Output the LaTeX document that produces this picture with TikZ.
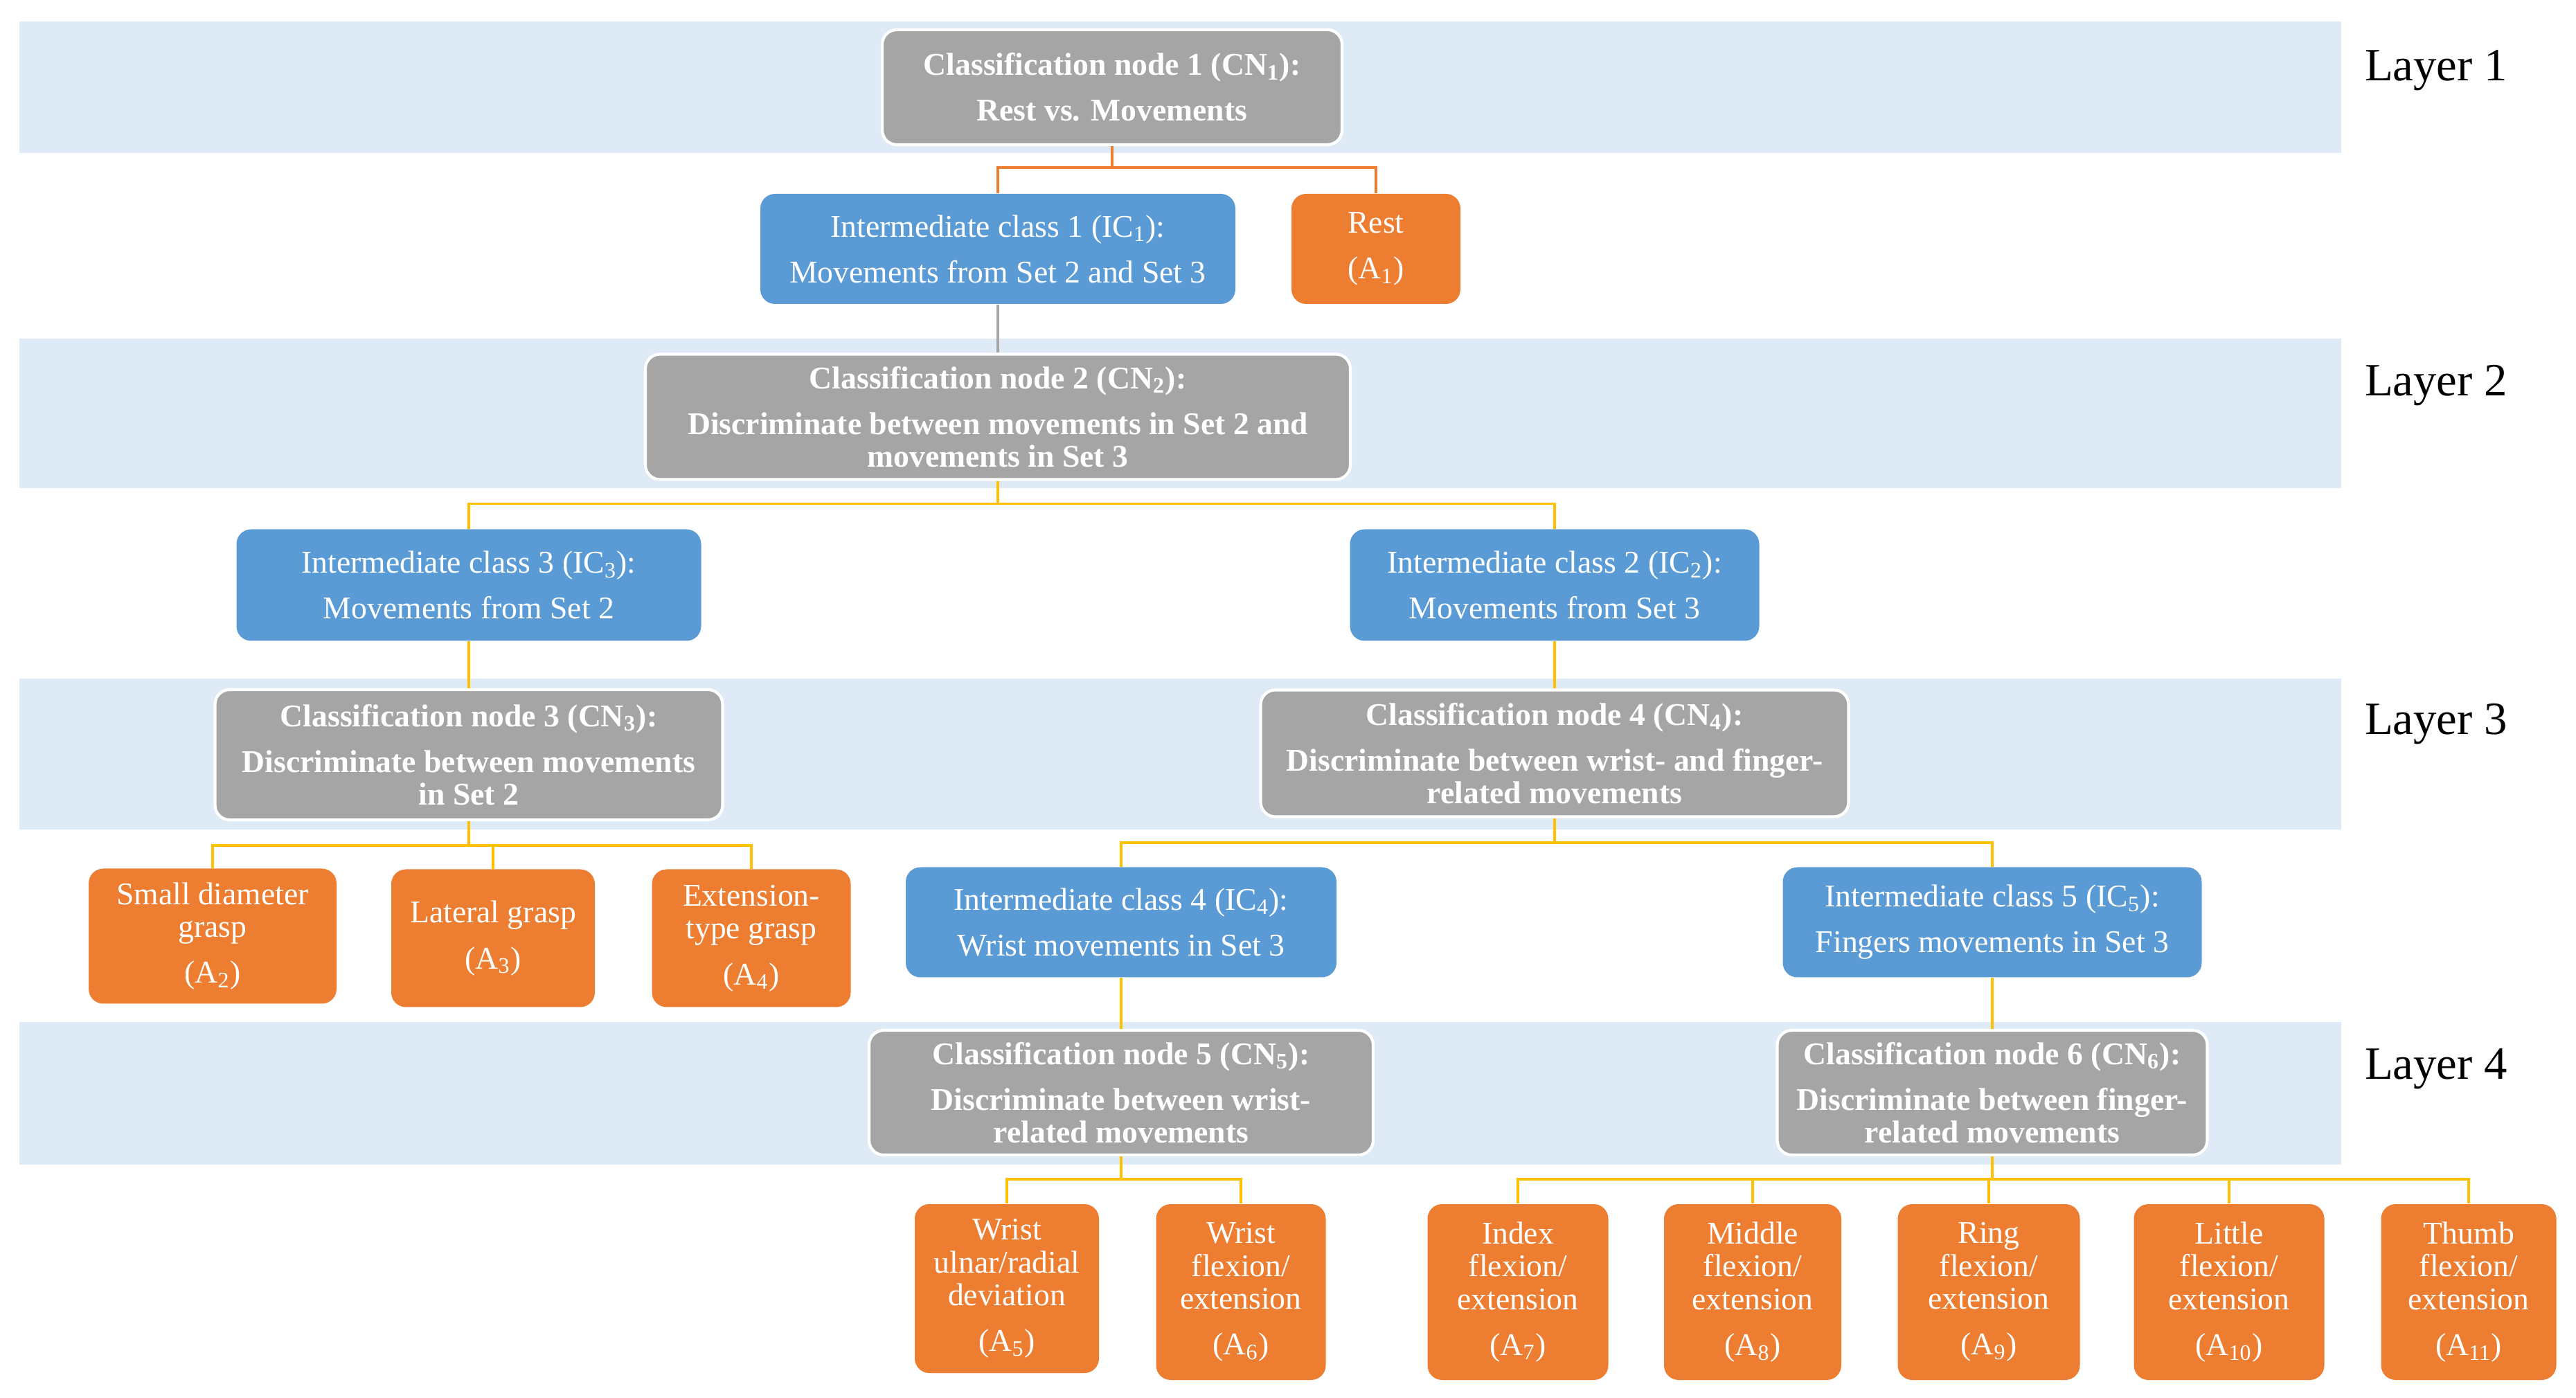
\documentclass[tikz,border=0pt]{standalone}
\usepackage{fontspec}
\setmainfont{Liberation Serif}
\usepackage{xcolor}
\usepackage{tikz}
\usetikzlibrary{positioning,calc}
\definecolor{bandblue}{RGB}{222,234,246}
\definecolor{nodegray}{RGB}{165,165,165}
\definecolor{classblue}{RGB}{91,155,213}
\definecolor{moveorange}{RGB}{237,125,49}
\definecolor{linkyellow}{RGB}{255,192,0}

\begin{document}
\begin{tikzpicture}[
    band/.style={fill=bandblue, draw=none},
    cnbox/.style={rectangle, rounded corners=6pt, fill=nodegray, draw=white, line width=1.2pt, text=white, align=center, inner sep=2pt, font=\fontsize{13}{13.5}\selectfont\bfseries},
    icbox/.style={rectangle, rounded corners=6pt, fill=classblue, text=white, align=center, inner sep=2pt, font=\fontsize{13}{13.5}\selectfont},
    movebox/.style={rectangle, rounded corners=6pt, fill=moveorange, text=white, align=center, inner sep=2pt, font=\fontsize{13}{13.5}\selectfont},
    layerlabel/.style={font=\fontsize{19}{22}\selectfont},
    link/.style={draw=linkyellow, line width=1pt}
]
\useasboundingbox (0,0) rectangle (37.2,-20.19);

% layer bands
\fill[band] (0.28,-0.31) rectangle (33.81,-2.21);
\fill[band] (0.28,-4.89) rectangle (33.81,-7.05);
\fill[band] (0.28,-9.80) rectangle (33.81,-11.98);
\fill[band] (0.28,-14.76) rectangle (33.81,-16.82);

\node[layerlabel] (layer1) at (35.18,-1.02) {Layer 1};
\node[layerlabel] (layer2) at (35.18,-5.57) {Layer 2};
\node[layerlabel] (layer3) at (35.18,-10.46) {Layer 3};
\node[layerlabel] (layer4) at (35.18,-15.44) {Layer 4};

% layer 1
\node[cnbox, minimum width=6.64cm, minimum height=1.66cm] (cn1) at (16.06,-1.26) {Classification node 1 (CN\textsubscript{1}):\\[5.3pt]Rest vs. Movements};
\node[icbox, minimum width=6.86cm, minimum height=1.59cm] (ic1) at (14.41,-3.595) {Intermediate class 1 (IC\textsubscript{1}):\\[5.3pt]Movements from Set 2 and Set 3};
\node[movebox, minimum width=2.44cm, minimum height=1.59cm] (a1) at (19.87,-3.595) {Rest\\[5.3pt](A\textsubscript{1})};

% layer 2
\node[cnbox, minimum width=10.18cm, minimum height=1.81cm] (cn2) at (14.41,-6.02) {Classification node 2 (CN\textsubscript{2}):\\[5.3pt]Discriminate between movements in Set 2 and\\movements in Set 3};
\node[icbox, minimum width=6.71cm, minimum height=1.61cm] (ic3) at (6.77,-8.45) {Intermediate class 3 (IC\textsubscript{3}):\\[5.3pt]Movements from Set 2};
\node[icbox, minimum width=5.91cm, minimum height=1.61cm] (ic2) at (22.45,-8.45) {Intermediate class 2 (IC\textsubscript{2}):\\[5.3pt]Movements from Set 3};

% layer 3
\node[cnbox, minimum width=7.33cm, minimum height=1.88cm] (cn3) at (6.77,-10.90) {Classification node 3 (CN\textsubscript{3}):\\[5.3pt]Discriminate between movements\\in Set 2};
\node[cnbox, minimum width=8.49cm, minimum height=1.83cm] (cn4) at (22.45,-10.88) {Classification node 4 (CN\textsubscript{4}):\\[5.3pt]Discriminate between wrist- and finger-\\related movements};
\node[movebox, minimum width=3.58cm, minimum height=1.95cm] (a2) at (3.07,-13.52) {Small diameter\\grasp\\[5.3pt](A\textsubscript{2})};
\node[movebox, minimum width=2.94cm, minimum height=1.99cm] (a3) at (7.12,-13.55) {Lateral grasp\\[5.3pt](A\textsubscript{3})};
\node[movebox, minimum width=2.87cm, minimum height=1.99cm] (a4) at (10.85,-13.55) {Extension-\\type grasp\\[5.3pt](A\textsubscript{4})};
\node[icbox, minimum width=6.22cm, minimum height=1.59cm] (ic4) at (16.19,-13.32) {Intermediate class 4 (IC\textsubscript{4}):\\[5.3pt]Wrist movements in Set 3};
\node[icbox, minimum width=6.05cm, minimum height=1.59cm] (ic5) at (28.77,-13.32) {Intermediate class 5 (IC\textsubscript{5}):\\[5.3pt]Fingers movements in Set 3};

% layer 4
\node[cnbox, minimum width=7.28cm, minimum height=1.80cm] (cn5) at (16.19,-15.78) {Classification node 5 (CN\textsubscript{5}):\\[5.3pt]Discriminate between wrist-\\related movements};
\node[cnbox, minimum width=6.21cm, minimum height=1.80cm] (cn6) at (28.77,-15.78) {Classification node 6 (CN\textsubscript{6}):\\[5.3pt]Discriminate between finger-\\related movements};
\node[movebox, minimum width=2.66cm, minimum height=2.44cm] (a5) at (14.54,-18.61) {Wrist\\ulnar/radial\\deviation\\[5.3pt](A\textsubscript{5})};
\node[movebox, minimum width=2.45cm, minimum height=2.54cm] (a6) at (17.92,-18.66) {Wrist\\flexion/\\extension\\[5.3pt](A\textsubscript{6})};
\node[movebox, minimum width=2.61cm, minimum height=2.54cm] (a7) at (21.92,-18.66) {Index\\flexion/\\extension\\[5.3pt](A\textsubscript{7})};
\node[movebox, minimum width=2.56cm, minimum height=2.54cm] (a8) at (25.31,-18.66) {Middle\\flexion/\\extension\\[5.3pt](A\textsubscript{8})};
\node[movebox, minimum width=2.63cm, minimum height=2.54cm] (a9) at (28.72,-18.66) {Ring\\flexion/\\extension\\[5.3pt](A\textsubscript{9})};
\node[movebox, minimum width=2.75cm, minimum height=2.54cm] (a10) at (32.19,-18.66) {Little\\flexion/\\extension\\[5.3pt](A\textsubscript{10})};
\node[movebox, minimum width=2.53cm, minimum height=2.54cm] (a11) at (35.65,-18.66) {Thumb\\flexion/\\extension\\[5.3pt](A\textsubscript{11})};

% tree connectors
\draw[link, draw=moveorange] (cn1.south) -- ++(0,-0.31) coordinate (bus1) -| (ic1.north);
\draw[link, draw=moveorange] (bus1) -| (a1.north);
\draw[link, draw=nodegray] (ic1.south) -- (cn2.north);
\draw[link] (cn2.south) -- ++(0,-0.33) coordinate (bus2) -| (ic3.north);
\draw[link] (bus2) -| (ic2.north);
\draw[link] (ic3.south) -- (cn3.north);
\draw[link] (ic2.south) -- (cn4.north);
\draw[link] (cn3.south) -- ++(0,-0.35) coordinate (bus3) -| (a2.north);
\draw[link] (bus3) -| (a3.north);
\draw[link] (bus3) -| (a4.north);
\draw[link] (cn4.south) -- ++(0,-0.355) coordinate (bus4) -| (ic4.north);
\draw[link] (bus4) -| (ic5.north);
\draw[link] (ic4.south) -- (cn5.north);
\draw[link] (ic5.south) -- (cn6.north);
\draw[link] (cn5.south) -- ++(0,-0.33) coordinate (bus5) -| (a5.north);
\draw[link] (bus5) -| (a6.north);
\draw[link] (cn6.south) -- ++(0,-0.33) coordinate (bus6) -| (a7.north);
\foreach \leaf in {a8,a9,a10,a11}
    \draw[link] (bus6) -| (\leaf.north);

\end{tikzpicture}
\end{document}
